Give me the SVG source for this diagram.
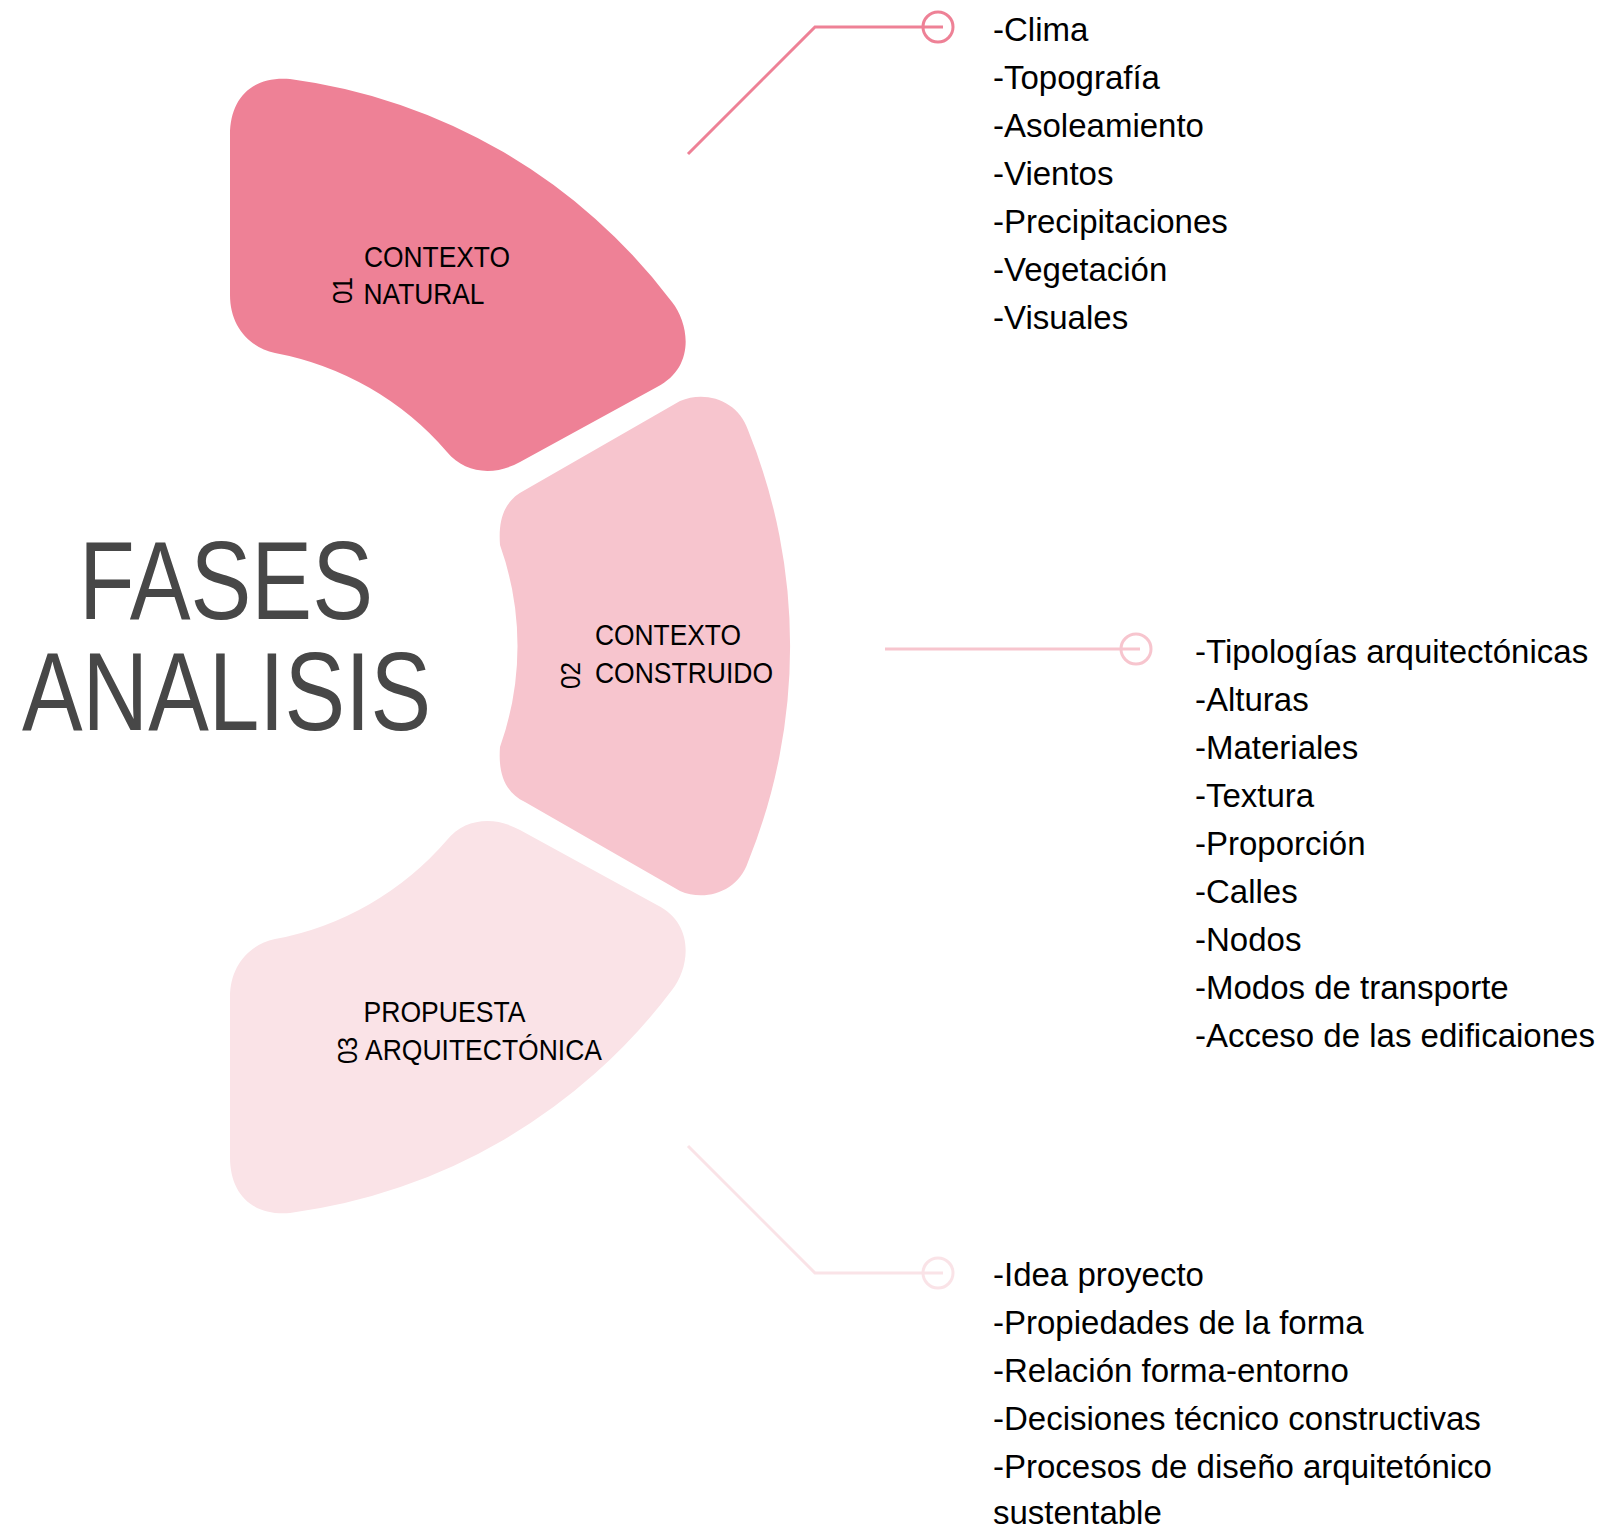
<svg xmlns="http://www.w3.org/2000/svg" width="1601" height="1532" viewBox="0 0 1601 1532">
<style>
  .lbl { font-family: "Liberation Sans", Arial, sans-serif; font-size: 30px; fill: #000; }
  .num { font-family: "Liberation Sans", Arial, sans-serif; font-size: 28px; fill: #000; }
  .item { font-family: "Liberation Sans", Arial, sans-serif; font-size: 33px; fill: #000; }
  .title { font-family: "Liberation Sans", Arial, sans-serif; font-size: 112px; fill: #474747; }
  .c1 { stroke: #EE8196; }
  .c2 { stroke: #F7C5CE; }
  .c3 { stroke: #FAE3E7; }
  .conn { fill: none; stroke-width: 3; }
</style>
<defs>
  <path id="petal" d="M 230 135 C 230 98 252 76 290 79 A 572 572 0 0 1 672 302 C 690 325 695 368 657 387 L 520 462 C 495 476 465 474 447 452 A 300 300 0 0 0 275 353 C 248 347 230 325 230 295 Z"/>
</defs>
<rect x="0" y="0" width="1601" height="1532" fill="#ffffff"/>

<g id="title">
  <text class="title" x="79" y="619" textLength="294" lengthAdjust="spacingAndGlyphs">FASES</text>
  <text class="title" x="22" y="730" textLength="409" lengthAdjust="spacingAndGlyphs">ANALISIS</text>
</g>

<g id="node-01">
  <use href="#petal" fill="#EE8196"/>
  <text class="lbl" x="364" y="267" textLength="146" lengthAdjust="spacingAndGlyphs">CONTEXTO</text>
  <text class="lbl" x="363.5" y="304" textLength="121" lengthAdjust="spacingAndGlyphs">NATURAL</text>
  <text class="num" transform="translate(352,304) rotate(-90)" textLength="27" lengthAdjust="spacingAndGlyphs">01</text>
</g>

<g id="node-02">
  <path fill="#F7C5CE" d="M 500 545 C 498 518 505 500 525 490 L 680 401 C 705 390 738 400 748 430 A 575 575 0 0 1 748 862 C 738 892 705 902 680 891 L 525 802 C 505 792 498 774 500 747 A 300 300 0 0 0 500 545 Z"/>
  <text class="lbl" x="595" y="645" textLength="146" lengthAdjust="spacingAndGlyphs">CONTEXTO</text>
  <text class="lbl" x="595" y="683" textLength="178" lengthAdjust="spacingAndGlyphs">CONSTRUIDO</text>
  <text class="num" transform="translate(580,689) rotate(-90)" textLength="27" lengthAdjust="spacingAndGlyphs">02</text>
</g>

<g id="node-03">
  <use href="#petal" fill="#FAE3E7" transform="matrix(1 0 0 -1 0 1292)"/>
  <text class="lbl" x="363.5" y="1022" textLength="162" lengthAdjust="spacingAndGlyphs">PROPUESTA</text>
  <text class="lbl" x="365" y="1060" textLength="237" lengthAdjust="spacingAndGlyphs">ARQUITECTÓNICA</text>
  <text class="num" transform="translate(357,1064) rotate(-90)" textLength="27" lengthAdjust="spacingAndGlyphs">03</text>
</g>

<g id="connectors">
  <polyline class="conn c1" points="688,154 815,27 943,27"/>
  <circle class="conn c1" cx="938" cy="27" r="15"/>
  <line class="conn c2" x1="885" y1="649" x2="1140" y2="649"/>
  <circle class="conn c2" cx="1136" cy="649" r="15"/>
  <polyline class="conn c3" points="688,1146 815,1273 943,1273"/>
  <circle class="conn c3" cx="938" cy="1273" r="15"/>
</g>

<g id="list-01">
  <text class="item" x="993" y="41">-Clima</text>
  <text class="item" x="993" y="89">-Topografía</text>
  <text class="item" x="993" y="137">-Asoleamiento</text>
  <text class="item" x="993" y="185">-Vientos</text>
  <text class="item" x="993" y="233">-Precipitaciones</text>
  <text class="item" x="993" y="281">-Vegetación</text>
  <text class="item" x="993" y="329">-Visuales</text>
</g>

<g id="list-02">
  <text class="item" x="1195" y="663">-Tipologías arquitectónicas</text>
  <text class="item" x="1195" y="711">-Alturas</text>
  <text class="item" x="1195" y="759">-Materiales</text>
  <text class="item" x="1195" y="807">-Textura</text>
  <text class="item" x="1195" y="855">-Proporción</text>
  <text class="item" x="1195" y="903">-Calles</text>
  <text class="item" x="1195" y="951">-Nodos</text>
  <text class="item" x="1195" y="999">-Modos de transporte</text>
  <text class="item" x="1195" y="1047">-Acceso de las edificaiones</text>
</g>

<g id="list-03">
  <text class="item" x="993" y="1286">-Idea proyecto</text>
  <text class="item" x="993" y="1334">-Propiedades de la forma</text>
  <text class="item" x="993" y="1382">-Relación forma-entorno</text>
  <text class="item" x="993" y="1430">-Decisiones técnico constructivas</text>
  <text class="item" x="993" y="1478">-Procesos de diseño arquitetónico</text>
  <text class="item" x="993" y="1524">sustentable</text>
</g>
</svg>
